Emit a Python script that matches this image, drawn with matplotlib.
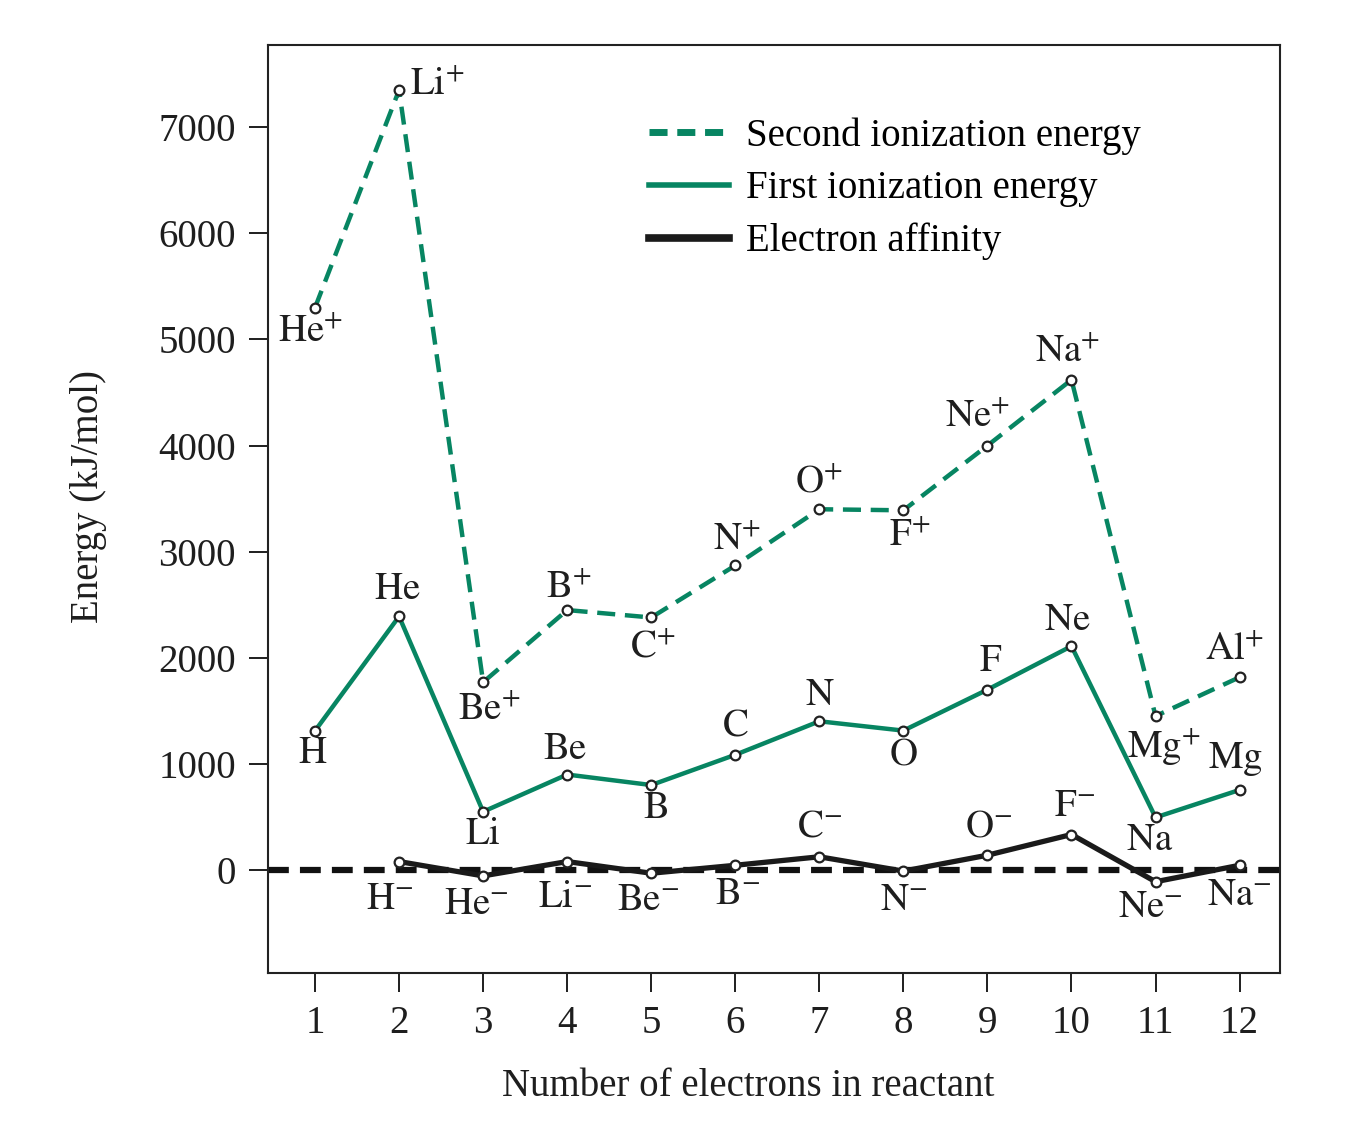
import matplotlib
matplotlib.use("Agg")
import matplotlib.pyplot as plt

plt.rcParams['font.family'] = ['Liberation Serif', 'DejaVu Serif']
plt.rcParams['mathtext.fontset'] = 'stix'
plt.rcParams['lines.scale_dashes'] = False

electrons = [1, 2, 3, 4, 5, 6, 7, 8, 9, 10, 11, 12]

second_ie = [5300, 7350, 1770, 2450, 2380, 2870, 3400, 3390, 4000, 4620, 1451, 1817]
second_names = ["He", "Li", "Be", "B", "C", "N", "O", "F", "Ne", "Na", "Mg", "Al"]

first_ie = [1312, 2390, 550, 900, 801, 1086, 1402, 1314, 1700, 2110, 496, 755]
first_names = ["H", "He", "Li", "Be", "B", "C", "N", "O", "F", "Ne", "Na", "Mg"]

ea_electrons = [2, 3, 4, 5, 6, 7, 8, 9, 10, 11, 12]
electron_affinity = [80, -55, 80, -30, 45, 125, -10, 140, 335, -110, 45]
ea_names = ["H", "He", "Li", "Be", "B", "C", "N", "O", "F", "Ne", "Na"]

# label offsets in pixels (dx, dy) relative to each marker
second_off = [(-4, -24), (38, 6), (6, -27), (2, 23), (2, -30), (2, 26), (0, 27), (6, -25), (-10, 29), (-4, 28), (8, -30), (-5, 28)]
first_off = [(-2, -23), (-2, 27), (0, -23), (-2, 25), (4, -23), (0, 29), (0, 26), (0, -24), (3, 28), (-4, 26), (-6, -23), (-4, 31)]
ea_off = [(-9, -38), (-7, -29), (-2, -36), (-3, -27), (2, -29), (0, 30), (0, -29), (1, 28), (3, 28), (-5, -26), (0, -30)]

green = '#078562'
fs = 28
txt = '#1e1e1e'

fig = plt.figure(figsize=(13.72, 11.36), dpi=100)
ax = fig.add_axes([0.1953, 0.1435, 0.7376, 0.8169])

ax.axhline(0, color='#111111', lw=4.5, dashes=(15, 8), zorder=1)

mk = dict(marker='o', markersize=7, markerfacecolor='white',
          markeredgecolor='#222222', markeredgewidth=1.6)
ax.plot(electrons, second_ie, color=green, lw=3.2, dashes=(13, 7),
        label='Second ionization energy', zorder=3, **mk)
ax.plot(electrons, first_ie, color=green, lw=3.2,
        label='First ionization energy', zorder=3, **mk)
ax.plot(ea_electrons, electron_affinity, color='#1a1a1a', lw=3.8,
        label='Electron affinity', zorder=3, **mk)

for x, y, n, o in zip(electrons, second_ie, second_names, second_off):
    ax.annotate(r'$\mathrm{%s}^{+}$' % n, (x, y), xytext=o, textcoords='offset pixels',
                ha='center', va='center', fontsize=fs, color=txt)
for x, y, n, o in zip(electrons, first_ie, first_names, first_off):
    ax.annotate(r'$\mathrm{%s}$' % n, (x, y), xytext=o, textcoords='offset pixels',
                ha='center', va='center', fontsize=fs, color=txt)
for x, y, n, o in zip(ea_electrons, electron_affinity, ea_names, ea_off):
    ax.annotate(r'$\mathrm{%s}^{-}$' % n, (x, y), xytext=o, textcoords='offset pixels',
                ha='center', va='center', fontsize=fs, color=txt)

ax.set_xlim(0.44, 12.48)
ax.set_ylim(-970, 7775)
ax.set_xticks(electrons)
ax.set_yticks(range(0, 8000, 1000))
ax.tick_params(direction='out', length=14, width=1.4, pad=9, labelsize=fs,
               colors=txt)
for s in ax.spines.values():
    s.set_linewidth(1.5)
    s.set_color('#222222')

ax.set_xlabel('Number of electrons in reactant', fontsize=fs, color=txt)
ax.set_ylabel('Energy (kJ/mol)', fontsize=fs, color=txt)
ax.xaxis.set_label_coords(0.475, -0.102)
ax.yaxis.set_label_coords(-0.159, 0.513)

leg = ax.legend(loc='upper left', bbox_to_anchor=(0.342, 0.96), frameon=False,
                fontsize=fs, handlelength=2.05, handletextpad=0.45, labelspacing=0.4)
for h in leg.get_lines():
    h.set_marker('')
leg.get_lines()[0].set_linewidth(5)
leg.get_lines()[1].set_linewidth(4)
leg.get_lines()[2].set_linewidth(5.5)

fig.savefig('out.png', dpi=100)
